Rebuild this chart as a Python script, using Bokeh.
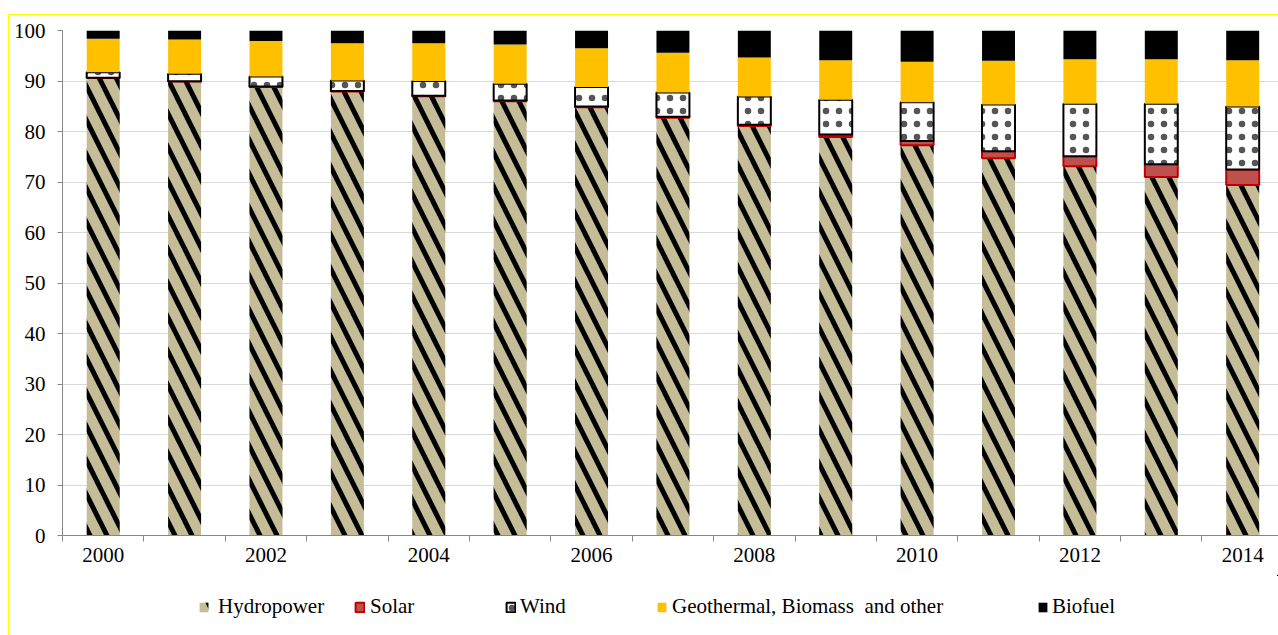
import numpy as np
from bokeh.plotting import figure
from bokeh.layouts import column
from bokeh.models import (ColumnDataSource, Range1d, FixedTicker, Legend, LegendItem,
                          InlineStyleSheet)
from bokeh.embed import file_html
from bokeh.resources import INLINE

years = [2000, 2001, 2002, 2003, 2004, 2005, 2006, 2007, 2008, 2009, 2010, 2011, 2012, 2013, 2014]
hydropower = [90.6, 89.9, 88.8, 87.9, 87.0, 86.0, 84.8, 82.7, 81.1, 78.9, 77.3, 74.7, 73.1, 71.0, 69.4]
solar = [0.05, 0.05, 0.1, 0.1, 0.1, 0.15, 0.15, 0.2, 0.25, 0.5, 0.8, 1.4, 2.0, 2.5, 3.1]
wind = [1.1, 1.5, 2.0, 2.1, 2.9, 3.3, 3.85, 4.8, 5.6, 6.9, 7.7, 9.25, 10.4, 12.0, 12.45]
geothermal = [6.6, 6.75, 7.0, 7.4, 7.5, 7.8, 7.7, 7.9, 7.7, 7.8, 8.0, 8.65, 8.8, 8.8, 9.15]
biofuel = [1.65, 1.8, 2.1, 2.5, 2.5, 2.75, 3.5, 4.4, 5.35, 5.9, 6.2, 6.0, 5.7, 5.7, 5.9]
series_names = ["Hydropower", "Solar", "Wind", "Geothermal, Biomass  and other", "Biofuel"]
y_ticks = [0, 10, 20, 30, 40, 50, 60, 70, 80, 90, 100]

FONT = "Liberation Serif"

x = np.arange(len(years))
stack = np.vstack([hydropower, solar, wind, geothermal, biofuel])
tops = np.cumsum(stack, axis=0)
bottoms = tops - stack
sources = [ColumnDataSource(dict(x=x, bottom=bottoms[i], top=tops[i])) for i in range(5)]

css_main = InlineStyleSheet(css="""
:host { position: relative; overflow: hidden; }
:host::after { content: ''; position: absolute; left: 8px; top: 14px; width: 1300px; height: 700px;
  border: 1px solid #ffff00; pointer-events: none; }
""")
css_leg = InlineStyleSheet(css="""
:host { position: relative; overflow: hidden; }
:host::after { content: ''; position: absolute; left: 8px; top: -20px; width: 1300px; height: 700px;
  border: 1px solid #ffff00; pointer-events: none; }
""")

p = figure(width=1278, height=575, output_backend="svg", toolbar_location=None,
           x_range=Range1d(-0.5, 14.44), y_range=Range1d(0, 100),
           min_border_left=62, min_border_top=30, min_border_right=0, min_border_bottom=40)
p.stylesheets = [css_main]
p.outline_line_color = None
p.background_fill_color = "white"
p.border_fill_color = "white"

styles = [
    dict(fill_color="#c4bd97", line_color=None, hatch_pattern="left_diagonal_line",
         hatch_color="black", hatch_weight=5, hatch_scale=34),
    dict(fill_color="#c0504d", line_color="#c00000", line_width=2),
    dict(fill_color="white", line_color="black", line_width=2, hatch_pattern="dot",
         hatch_color="#555555", hatch_weight=0.5, hatch_scale=13),
    dict(fill_color="#ffc000", line_color=None),
    dict(fill_color="black", line_color=None),
]

for i, st in enumerate(styles):
    p.vbar(x="x", bottom="bottom", top="top", width=0.405, source=sources[i], **st)

# axes
p.xgrid.grid_line_color = None
p.ygrid.grid_line_color = "#d9d9d9"
p.ygrid.grid_line_width = 1
p.yaxis.ticker = FixedTicker(ticks=y_ticks)
p.yaxis.axis_line_color = "#868686"
p.yaxis.major_tick_line_color = "#868686"
p.yaxis.major_tick_out = 5
p.yaxis.major_tick_in = 0
p.yaxis.minor_tick_line_color = None
p.yaxis.major_label_standoff = 12
p.yaxis.major_label_text_font = FONT
p.yaxis.major_label_text_font_size = "21px"
p.yaxis.major_label_text_color = "black"

label_pos = list(x[::2])
p.xaxis.ticker = FixedTicker(ticks=label_pos, minor_ticks=list(np.arange(-0.5, 15, 1.0)))
p.xaxis.major_label_overrides = {int(i): str(years[i]) for i in label_pos}
p.xaxis.axis_line_color = "#868686"
p.xaxis.major_tick_line_color = None
p.xaxis.minor_tick_line_color = "#868686"
p.xaxis.minor_tick_out = 6
p.xaxis.minor_tick_in = 0
p.xaxis.major_tick_out = 6
p.xaxis.major_label_standoff = 6
p.xaxis.major_label_text_font = FONT
p.xaxis.major_label_text_font_size = "21px"
p.xaxis.major_label_text_color = "black"

# legend strip below the chart (its frame is aligned with the chart frame, starting at x=62)
# its ranges keep the bars themselves off-screen so only the legend entries show
pl = figure(width=1278, height=60, output_backend="svg", toolbar_location=None,
            x_range=Range1d(-1000, -900), y_range=Range1d(-1000, -940),
            x_axis_type=None, y_axis_type=None,
            min_border_left=0, min_border_top=0, min_border_right=0, min_border_bottom=0)
pl.stylesheets = [css_leg]
pl.outline_line_color = None
pl.xgrid.grid_line_color = None
pl.ygrid.grid_line_color = None
pl.border_fill_color = "white"
pl.background_fill_color = "white"

legend_x = [198, 354, 505, 656, 1037]
legend_standoff = [9, 5, 4, 5, 4]
for i, st in enumerate(styles):
    r = pl.vbar(x="x", bottom="bottom", top="top", width=0.405, source=sources[i], **st)
    lg = Legend(items=[LegendItem(label=series_names[i], renderers=[r], index=0)],
                location=(legend_x[i] - 62, 16), orientation="horizontal",
                border_line_color=None, background_fill_alpha=0, padding=0, margin=0,
                glyph_width=11, glyph_height=12, label_standoff=legend_standoff[i],
                label_text_font=FONT, label_text_font_size="21px",
                label_text_color="black", label_height=12, spacing=0)
    pl.add_layout(lg, "center")

layout = column(p, pl, spacing=0)
open("out.html", "w").write(file_html(layout, INLINE))
